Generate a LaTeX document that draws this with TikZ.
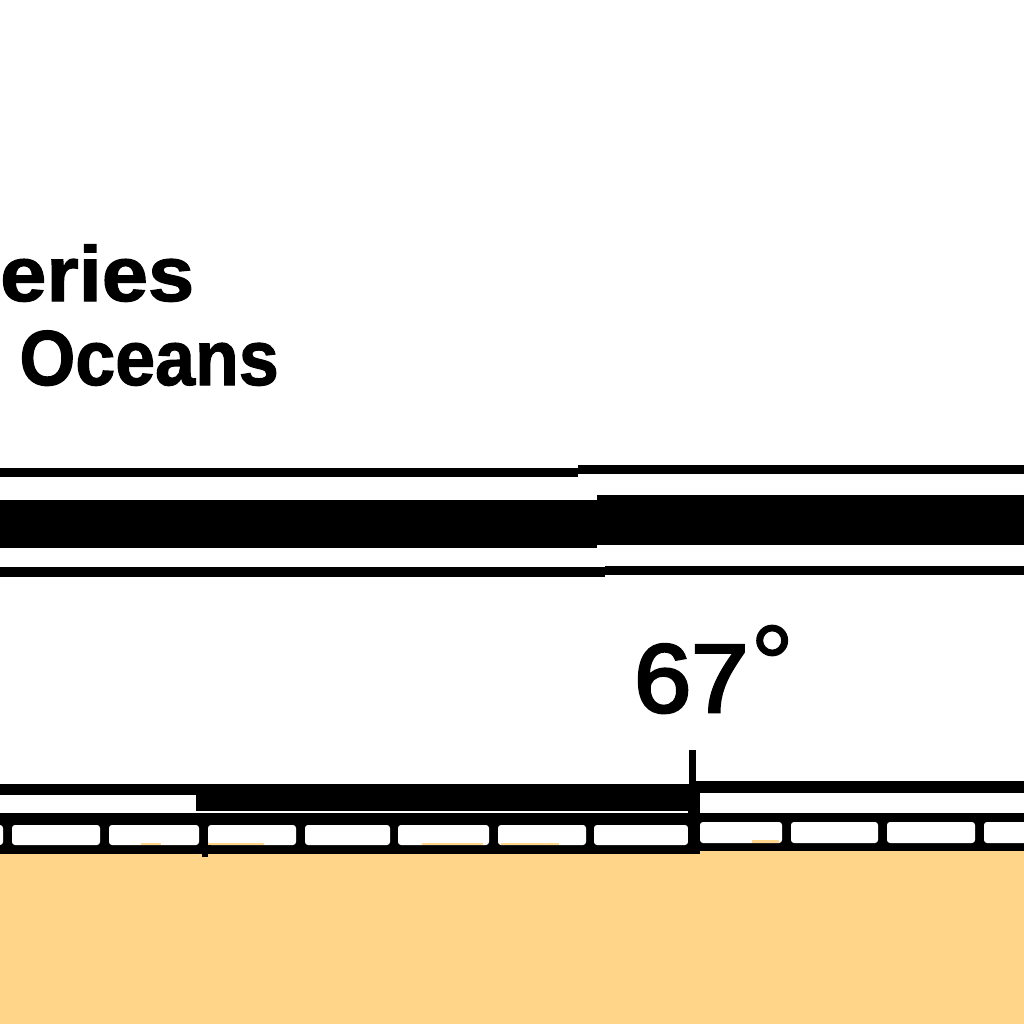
\documentclass[tikz,border=0pt]{standalone}
\usepackage{fontspec}
\setmainfont{Liberation Sans}
\newfontfamily\heavyface[FakeBold=3]{Liberation Sans}
\newfontfamily\ringface[FakeBold=1]{Liberation Sans}
\newfontfamily\heavybold[FakeBold=1.5]{Liberation Sans Bold}
\definecolor{sand}{HTML}{FFD58A}
\tikzset{
  ink/.style={fill=black,draw=none},
  ground/.style={fill=sand,draw=none},
  cell/.style={fill=white,draw=none,rounded corners=3pt},
  boldlabel/.style={inner sep=0pt,anchor=base west,transform shape,font=\heavybold\fontsize{78}{78}\selectfont},
  plainlabel/.style={inner sep=0pt,anchor=base west,transform shape,font=\heavyface\fontsize{97}{97}\selectfont},
  ringlabel/.style={inner sep=0pt,anchor=base west,font=\ringface\fontsize{110}{110}\selectfont}
}
\newcommand{\inkbar}[4]{\fill[ink] (#1,#2) rectangle (#3,#4);}
\newcommand{\lowcell}[2]{\fill[cell] (#1,825) rectangle (#2,845);}
\newcommand{\highcell}[2]{\fill[cell] (#1,822) rectangle (#2,843);}
\begin{document}
\begin{tikzpicture}[x=1pt,y=-1pt]
\useasboundingbox (0,0) rectangle (1024,1024);
\fill[white] (0,0) rectangle (1024,1024);
% ground
\fill[ground] (0,854) -- (690,854) -- (690,851) -- (1024,851) -- (1024,1024) -- (0,1024) -- cycle;
% text
\begin{scope}[xscale=1.065]
\node[boldlabel] (word1) at (0,301) {eries};
\end{scope}
\begin{scope}[xscale=.92]
\node[boldlabel] (word2) at (21,385) {Oceans};
\end{scope}
\begin{scope}[xscale=1.06]
\node[plainlabel] (angle) at (598,712) {67};
\end{scope}
\node[ringlabel] (ring) at (750,702) {°};
% upper band
\inkbar{0}{468}{578}{477}
\inkbar{578}{465}{1024}{474}
\inkbar{0}{500}{597}{548}
\inkbar{597}{495}{1024}{545}
\inkbar{0}{567}{605}{577}
\inkbar{605}{566}{1024}{575}
% scale bar: top rails
\inkbar{0}{784}{196}{795}
\inkbar{196}{784}{690}{811}
\inkbar{690}{781}{1024}{793}
% second and bottom rails as one block, cells cut out of it
\inkbar{0}{813}{690}{854}
\inkbar{690}{813}{1024}{851}
\lowcell{-8}{3}
\lowcell{12}{100}
\lowcell{109}{199}
\lowcell{208}{296}
\lowcell{305}{390}
\lowcell{398}{489}
\lowcell{498}{586}
\lowcell{594}{688}
\highcell{700}{782}
\highcell{791}{878}
\highcell{887}{975}
\highcell{984}{1034}
% sand showing through the cells
\fill[ground] (141,843) rectangle (161,845);
\fill[ground] (208,843) rectangle (264,845);
\fill[ground] (422,843) rectangle (483,845);
\fill[ground] (501,843) rectangle (559,845);
\fill[ground] (752,840) rectangle (779,843);
% long ticks
\inkbar{202}{854}{208}{857}
\inkbar{688}{793}{700}{854}
\inkbar{689}{750}{696}{793}
\end{tikzpicture}
\end{document}
